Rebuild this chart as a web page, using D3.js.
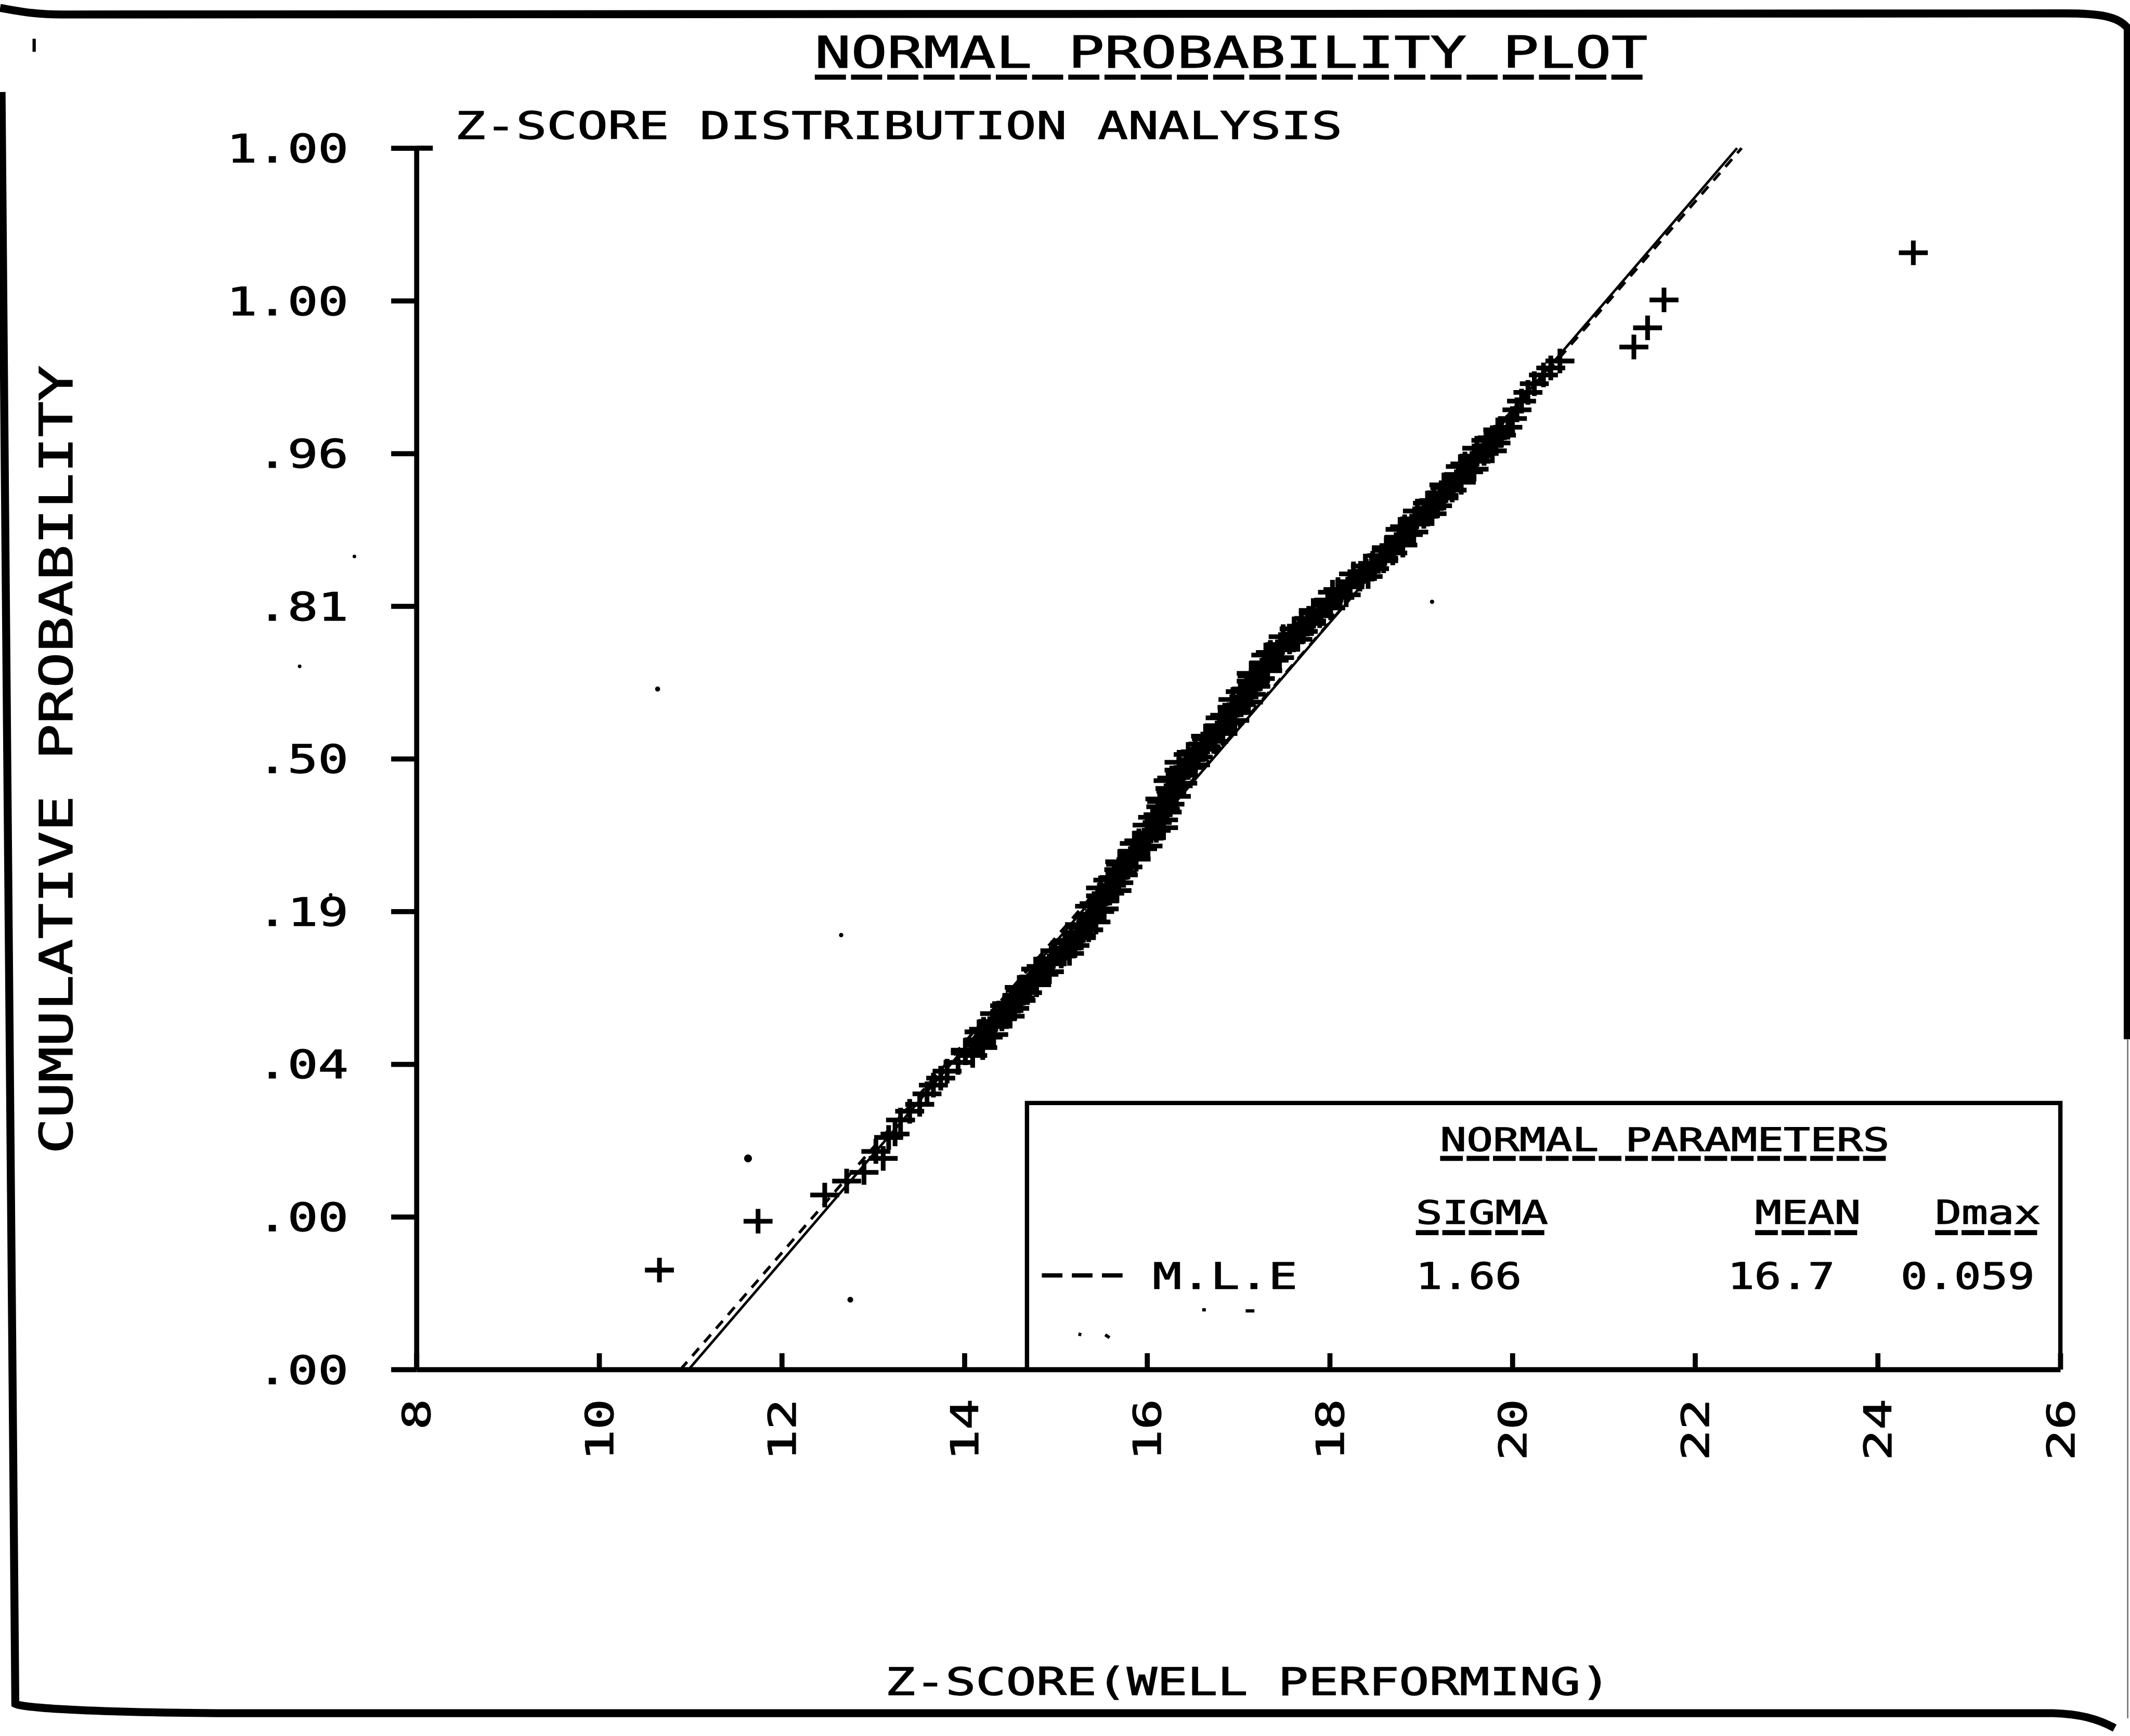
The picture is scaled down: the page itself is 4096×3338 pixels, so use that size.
<!DOCTYPE html>
<html>
<head>
<meta charset="utf-8">
<title>Normal Probability Plot</title>
<script src="https://cdn.jsdelivr.net/npm/d3@7"></script>
<style>
  html, body { margin: 0; padding: 0; background: #ffffff; }
  svg { display: block; }
</style>
</head>
<body>
<script>
// ---- chart values ----------------------------------------------------
const xTicks = [8, 10, 12, 14, 16, 18, 20, 22, 24, 26];
const zTicks = [3.5, 2.625, 1.75, 0.875, 0, -0.875, -1.75, -2.625, -3.5];
const zTickLabels = ["1.00", "1.00", ".96", ".81", ".50", ".19", ".04", ".00", ".00"];

// observed z-scores [value, normal score]
const lowerTail = [
  [10.66, -2.93], [11.74, -2.65], [12.47, -2.50], [12.71, -2.42], [12.90, -2.37],
  [13.11, -2.29], [13.03, -2.25], [13.17, -2.17], [13.24, -2.15], [13.30, -2.07],
  [13.40, -2.02], [13.51, -1.98], [13.59, -1.92], [13.66, -1.87], [13.74, -1.83],
  [13.81, -1.79], [13.93, -1.74]
];
const bodyPoints = [
  [14.09, -1.70], [14.01, -1.67], [14.16, -1.64], [14.16, -1.61], [14.32, -1.58],
  [14.21, -1.55], [14.32, -1.52], [14.41, -1.49], [14.33, -1.46], [14.55, -1.43],
  [14.51, -1.40], [14.61, -1.37], [14.69, -1.34], [14.60, -1.31], [14.76, -1.28],
  [14.76, -1.25], [14.93, -1.22], [14.84, -1.19], [14.96, -1.16], [15.06, -1.13],
  [14.99, -1.10], [15.21, -1.07], [15.17, -1.04], [15.28, -1.01], [15.36, -0.98],
  [15.26, -0.95], [15.39, -0.92], [15.38, -0.89], [15.53, -0.86], [15.42, -0.83],
  [15.51, -0.80], [15.59, -0.77], [15.49, -0.74], [15.69, -0.71], [15.64, -0.68],
  [15.73, -0.65], [15.79, -0.62], [15.70, -0.59], [15.84, -0.56], [15.84, -0.53],
  [16.01, -0.50], [15.91, -0.47], [16.01, -0.44], [16.10, -0.41], [16.00, -0.38],
  [16.18, -0.35], [16.12, -0.32], [16.20, -0.29], [16.25, -0.26], [16.14, -0.23],
  [16.27, -0.20], [16.25, -0.17], [16.39, -0.14], [16.27, -0.11], [16.37, -0.08],
  [16.45, -0.05], [16.35, -0.02], [16.56, 0.01], [16.53, 0.04], [16.64, 0.07],
  [16.73, 0.10], [16.64, 0.13], [16.79, 0.16], [16.79, 0.19], [16.96, 0.22],
  [16.85, 0.25], [16.95, 0.28], [17.03, 0.31], [16.94, 0.34], [17.14, 0.37],
  [17.09, 0.40], [17.18, 0.43], [17.24, 0.46], [17.14, 0.49], [17.28, 0.52],
  [17.28, 0.55], [17.45, 0.58], [17.35, 0.61], [17.47, 0.64], [17.56, 0.67],
  [17.49, 0.70], [17.71, 0.73], [17.69, 0.76], [17.80, 0.79], [17.89, 0.82],
  [17.82, 0.85], [17.98, 0.88], [17.99, 0.91], [18.18, 0.94], [18.09, 0.97],
  [18.22, 1.00], [18.33, 1.03], [18.26, 1.06], [18.49, 1.09], [18.47, 1.12],
  [18.59, 1.15], [18.69, 1.18], [18.62, 1.21], [18.76, 1.24], [18.76, 1.27],
  [18.92, 1.30], [18.82, 1.33], [18.94, 1.36], [19.03, 1.39], [18.96, 1.42],
  [19.18, 1.45], [19.14, 1.48], [19.25, 1.51], [19.34, 1.54], [19.25, 1.57],
  [19.41, 1.60], [19.41, 1.63], [19.58, 1.66], [19.48, 1.69], [19.59, 1.72],
  [19.69, 1.75], [19.61, 1.78], [19.82, 1.81], [19.78, 1.84], [19.87, 1.87],
  [19.95, 1.90]
];
const bodyPointsB = [
  [14.01, -1.685], [14.20, -1.655], [14.16, -1.625], [14.26, -1.595], [14.16, -1.565],
  [14.33, -1.535], [14.31, -1.505], [14.50, -1.475], [14.46, -1.445], [14.44, -1.415],
  [14.62, -1.385], [14.58, -1.355], [14.61, -1.325], [14.79, -1.295], [14.76, -1.265],
  [14.87, -1.235], [14.78, -1.205], [14.96, -1.175], [14.95, -1.145], [15.15, -1.115],
  [15.12, -1.085], [15.10, -1.055], [15.28, -1.025], [15.25, -0.995], [15.27, -0.965],
  [15.44, -0.935], [15.38, -0.905], [15.48, -0.875], [15.37, -0.845], [15.53, -0.815],
  [15.49, -0.785], [15.67, -0.755], [15.61, -0.725], [15.57, -0.695], [15.74, -0.665],
  [15.69, -0.635], [15.71, -0.605], [15.88, -0.575], [15.84, -0.545], [15.95, -0.515],
  [15.86, -0.485], [16.02, -0.455], [16.00, -0.425], [16.18, -0.395], [16.11, -0.365],
  [16.06, -0.335], [16.22, -0.305], [16.15, -0.275], [16.16, -0.245], [16.32, -0.215],
  [16.26, -0.185], [16.34, -0.155], [16.23, -0.125], [16.38, -0.095], [16.35, -0.065],
  [16.53, -0.035], [16.48, -0.005], [16.45, 0.025], [16.64, 0.055], [16.61, 0.085],
  [16.65, 0.115], [16.83, 0.145], [16.79, 0.175], [16.90, 0.205], [16.80, 0.235],
  [16.96, 0.265], [16.93, 0.295], [17.11, 0.325], [17.06, 0.355], [17.02, 0.385],
  [17.19, 0.415], [17.14, 0.445], [17.15, 0.475], [17.32, 0.505], [17.28, 0.535],
  [17.39, 0.565], [17.30, 0.595], [17.47, 0.625], [17.46, 0.655], [17.65, 0.685],
  [17.62, 0.715], [17.61, 0.745], [17.80, 0.775], [17.77, 0.805], [17.82, 0.835],
  [18.01, 0.865], [17.98, 0.895], [18.11, 0.925], [18.03, 0.955], [18.22, 0.985],
  [18.22, 1.015], [18.42, 1.045], [18.40, 1.075], [18.39, 1.105], [18.59, 1.135],
  [18.57, 1.165], [18.62, 1.195], [18.80, 1.225], [18.76, 1.255], [18.86, 1.285],
  [18.77, 1.315], [18.94, 1.345], [18.93, 1.375], [19.12, 1.405], [19.09, 1.435],
  [19.07, 1.465], [19.25, 1.495], [19.22, 1.525], [19.26, 1.555], [19.44, 1.585],
  [19.41, 1.615], [19.52, 1.645], [19.43, 1.675], [19.60, 1.705], [19.58, 1.735],
  [19.78, 1.765], [19.74, 1.795], [19.71, 1.825], [19.88, 1.855], [19.84, 1.885]
];
const upperTail = [
  [20.00, 1.95], [20.05, 2.00], [20.10, 2.05], [20.17, 2.10], [20.24, 2.15],
  [20.34, 2.20], [20.42, 2.24], [20.52, 2.28], [21.33, 2.36], [21.48, 2.47],
  [21.66, 2.63], [24.39, 2.90]
];
// isolated plotter specks [value, normal score, size]
const specks = [
  [10.64, 0.40, 7], [12.65, -1.01, 6], [19.12, 0.90, 6], [11.63, -2.29, 11],
  [12.75, -3.10, 8], [7.32, 1.16, 5], [6.72, 0.53, 5], [7.06, -0.78, 5]
];

// fitted normal lines
const mleFit = { name: "M.L.E", mean: 16.7, sigma: 1.66, dmax: 0.059 };
const altFit = { mean: 16.72, sigma: 1.64 };

const legendTitle = "NORMAL PARAMETERS";
const legendHeads = ["SIGMA", "MEAN", "Dmax"];

// ---- drawing ---------------------------------------------------------
const W = 5882, H = 4794;
const svg = d3.select("body").append("svg")
  .attr("width", 4096).attr("height", 3338)
  .attr("viewBox", `0 0 ${W} ${H}`);
svg.append("rect").attr("width", W).attr("height", H).attr("fill", "#fff");

const FONT = "'DejaVu Sans Mono', 'Liberation Mono', monospace";
const CAP = 0.729; // cap-height ratio of the font

function plotText(parent, str, x, y, o) {
  const fs = o.cap / CAP;
  const t = parent.append("text")
    .attr("x", x).attr("y", y)
    .attr("font-family", FONT)
    .attr("font-size", fs)
    .attr("fill", "#000")
    .attr("stroke", "#000").attr("stroke-width", 2)
    .attr("text-anchor", o.anchor || "start")
    .attr("textLength", str.length * o.pitch)
    .attr("lengthAdjust", "spacingAndGlyphs")
    .text(str);
  if (o.rotate) t.attr("transform", `rotate(${o.rotate},${x},${y})`);
  if (o.underline) {
    parent.append("line")
      .attr("x1", x).attr("x2", x + str.length * o.pitch - o.pitch * 0.12)
      .attr("y1", y + o.underline).attr("y2", y + o.underline)
      .attr("stroke", "#000").attr("stroke-width", 14)
      .attr("stroke-dasharray", `${o.pitch * 0.86} ${o.pitch * 0.14}`);
  }
  return t;
}

// page frame
const frame = svg.append("g").attr("fill", "none").attr("stroke", "#000");
frame.append("path").attr("stroke-width", 22)
  .attr("d", "M0,22 C50,30 90,40 170,40 L5690,37 C5800,36 5850,45 5876,78 L5876,2870");
frame.append("path").attr("stroke-width", 4).attr("stroke", "#777")
  .attr("d", "M5876,2870 L5876,4745");
frame.append("path").attr("stroke-width", 22)
  .attr("d", "M4,254 L42,4705 C60,4714 200,4728 600,4731 L5670,4731 C5740,4733 5790,4745 5840,4772");
frame.append("path").attr("stroke-width", 9).attr("d", "M94,107 V143");

// scales
const x = d3.scaleLinear().domain([8, 26]).range([1150, 5690]);
const y = d3.scaleLinear().domain([-3.5, 3.5]).range([3782, 409]);

// titles
plotText(svg, "NORMAL PROBABILITY PLOT", 2250, 187, { cap: 87, pitch: 100, underline: 26 });
plotText(svg, "Z-SCORE DISTRIBUTION ANALYSIS", 1256, 384, { cap: 76, pitch: 84.5 });
plotText(svg, "CUMULATIVE PROBABILITY", 200, 2098, { cap: 91, pitch: 99, anchor: "middle", rotate: -90 });
plotText(svg, "Z-SCORE(WELL PERFORMING)", 2444, 4681, { cap: 76, pitch: 83.5 });

// legend box (its lower side is the x axis)
const leg = svg.append("g");
leg.append("path").attr("fill", "none").attr("stroke", "#000").attr("stroke-width", 12)
  .attr("d", `M2836,${y(-3.5)} V3046 H${x(26)} V${y(-3.5)}`);
plotText(leg, legendTitle, 3977, 3179, { cap: 66, pitch: 73, underline: 20 });
const headX = [3910, 4847, 5344];
legendHeads.forEach((h, i) => plotText(leg, h, headX[i], 3380, { cap: 66, pitch: 73, underline: 24 }));
leg.append("line").attr("x1", 2877).attr("x2", 3100).attr("y1", 3522).attr("y2", 3522)
  .attr("stroke", "#000").attr("stroke-width", 12).attr("stroke-dasharray", "57 26");
plotText(leg, mleFit.name, 3183, 3559, { cap: 72, pitch: 80 });
plotText(leg, mleFit.sigma.toFixed(2), 3910, 3559, { cap: 72, pitch: 73 });
plotText(leg, mleFit.mean.toFixed(1), 4771, 3559, { cap: 72, pitch: 74 });
plotText(leg, mleFit.dmax.toFixed(3), 5249, 3559, { cap: 72, pitch: 74 });
// faded second legend entry
const faded = leg.append("g").attr("stroke", "#000").attr("stroke-width", 9);
faded.append("line").attr("x1", 3320).attr("x2", 3330).attr("y1", 3617).attr("y2", 3617);
faded.append("line").attr("x1", 3440).attr("x2", 3464).attr("y1", 3620).attr("y2", 3620);
faded.append("line").attr("x1", 2978).attr("x2", 2986).attr("y1", 3684).attr("y2", 3686);
faded.append("line").attr("x1", 3052).attr("x2", 3064).attr("y1", 3686).attr("y2", 3694);

// observations
const observations = lowerTail.concat(bodyPoints, bodyPointsB, upperTail);
svg.append("g").selectAll("path.obs").data(observations).join("path")
  .attr("class", "obs")
  .attr("transform", d => `translate(${x(d[0])},${y(d[1])})`)
  .attr("d", "M-40,0H40M0,-34V34")
  .attr("fill", "none").attr("stroke", "#000").attr("stroke-width", 13);

svg.append("g").selectAll("circle").data(specks).join("circle")
  .attr("cx", d => x(d[0])).attr("cy", d => y(d[1])).attr("r", d => d[2])
  .attr("fill", "#000");

// fitted lines
const fitLine = f => [-3.5, 3.5].map(z => [f.mean + f.sigma * z, z]);
const line = d3.line().x(d => x(d[0])).y(d => y(d[1]));
svg.append("path").attr("d", line(fitLine(altFit)))
  .attr("fill", "none").attr("stroke", "#000").attr("stroke-width", 7);
svg.append("path").attr("d", line(fitLine(mleFit)))
  .attr("fill", "none").attr("stroke", "#000").attr("stroke-width", 8)
  .attr("stroke-dasharray", "28 22");

// axes
const yAxis = svg.append("g").attr("transform", `translate(${x(8)},0)`)
  .call(d3.axisLeft(y).tickValues(zTicks).tickSize(70).tickSizeOuter(0).tickFormat(""));
const xAxis = svg.append("g").attr("transform", `translate(0,${y(-3.5)})`)
  .call(d3.axisBottom(x).tickValues(xTicks).tickSize(-45).tickSizeOuter(0).tickFormat(""));
[yAxis, xAxis].forEach(a => {
  a.selectAll("path, line").attr("stroke", "#000").attr("stroke-width", 14);
});
svg.append("line").attr("x1", x(8)).attr("x2", x(8) + 45).attr("y1", y(3.5)).attr("y2", y(3.5))
  .attr("stroke", "#000").attr("stroke-width", 14);

// tick labels
zTicks.forEach((z, i) => plotText(svg, zTickLabels[i], 962, y(z) + 39, { cap: 78, pitch: 84, anchor: "end" }));
xTicks.forEach(v => plotText(svg, String(v), x(v) + 38, 3863, { cap: 76, pitch: 85, anchor: "end", rotate: -90 }));
</script>
</body>
</html>
